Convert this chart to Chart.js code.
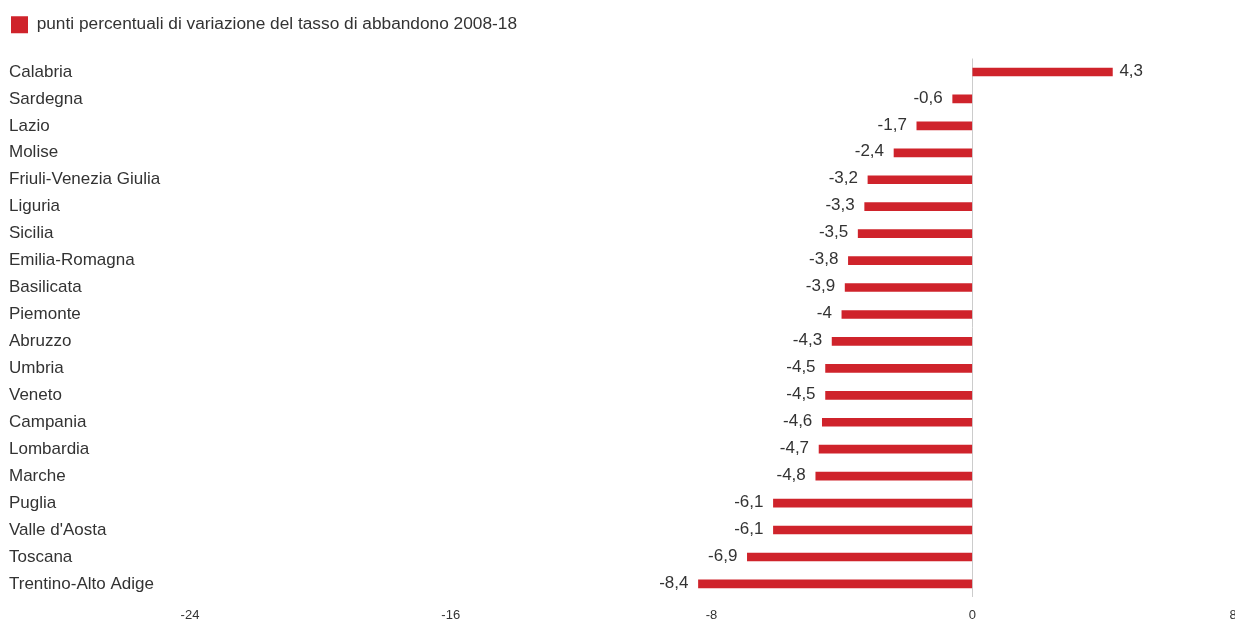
<!DOCTYPE html>
<html>
<head>
<meta charset="utf-8">
<script src="https://cdn.jsdelivr.net/npm/chart.js@4/dist/chart.umd.min.js"></script>
<style>
  html, body { margin: 0; padding: 0; background: #fff; overflow: hidden; }
  #wrap { position: relative; width: 1235px; height: 633px; }
</style>
</head>
<body>
<div id="wrap"><canvas id="c" width="1235" height="633"></canvas></div>
<script>
const categories = ["Calabria","Sardegna","Lazio","Molise","Friuli-Venezia Giulia","Liguria","Sicilia","Emilia-Romagna","Basilicata","Piemonte","Abruzzo","Umbria","Veneto","Campania","Lombardia","Marche","Puglia","Valle d'Aosta","Toscana","Trentino-Alto Adige"];
const values = [4.3,-0.6,-1.7,-2.4,-3.2,-3.3,-3.5,-3.8,-3.9,-4,-4.3,-4.5,-4.5,-4.6,-4.7,-4.8,-6.1,-6.1,-6.9,-8.4];
const seriesLabel = "punti percentuali di variazione del tasso di abbandono 2008-18";
const xTicks = [-24,-16,-8,0,8];

const FONT = "'Liberation Sans', Arial, Helvetica, sans-serif";
const RED = "#cf232b";
const TXT = "#333333";

const valueLabels = {
  id: 'valueLabels',
  afterDatasetsDraw(chart) {
    const ctx = chart.ctx;
    const meta = chart.getDatasetMeta(0);
    ctx.save();
    ctx.font = "17px " + FONT;
    ctx.fillStyle = TXT;
    ctx.textBaseline = 'middle';
    meta.data.forEach((bar, i) => {
      const v = values[i];
      const s = String(v).replace('.', ',');
      if (v >= 0) {
        ctx.textAlign = 'left';
        ctx.fillText(s, bar.x + 7, bar.y - 1);
      } else {
        ctx.textAlign = 'right';
        ctx.fillText(s, bar.x - 10, bar.y - 1);
      }
    });
    ctx.restore();
  }
};

const legendHeight = {
  id: 'legendHeight',
  beforeLayout(chart) {
    const lg = chart.legend;
    if (lg && !lg._patched) {
      const orig = lg.fit.bind(lg);
      lg.fit = function () { orig(); this.height = 44.5; };
      lg._patched = true;
    }
  }
};

new Chart(document.getElementById('c'), {
  type: 'bar',
  data: {
    labels: categories,
    datasets: [{
      label: seriesLabel,
      data: values,
      backgroundColor: RED,
      borderWidth: 0,
      barThickness: 8
    }]
  },
  options: {
    indexAxis: 'y',
    responsive: false,
    animation: false,
    layout: { padding: { left: 9, right: 2, top: 14, bottom: 0 } },
    plugins: {
      legend: {
        position: 'top',
        align: 'start',
        labels: {
          boxWidth: 17,
          boxHeight: 17,
          padding: 2,
          color: TXT,
          font: { family: FONT, size: 17.3 }
        }
      },
      tooltip: { enabled: false }
    },
    scales: {
      x: {
        min: -24,
        max: 8,
        afterBuildTicks(scale) { scale.ticks = xTicks.map(v => ({ value: v })); },
        afterFit(scale) { scale.paddingLeft = 0; scale.paddingRight = 0; },
        ticks: {
          color: TXT,
          font: { family: FONT, size: 13 },
          padding: 10,
          maxRotation: 0,
          callback: (v) => String(v)
        },
        grid: {
          color: (c) => (c.tick && c.tick.value === 0 ? '#cccccc' : 'rgba(0,0,0,0)'),
          drawTicks: false,
          lineWidth: 1
        },
        border: { display: false }
      },
      y: {
        afterFit(scale) { scale.width = 181; scale.paddingTop = 0; scale.paddingBottom = 0; },
        ticks: {
          crossAlign: 'far',
          color: TXT,
          font: { family: FONT, size: 17 },
          padding: 0
        },
        grid: { display: false, drawTicks: false },
        border: { display: false }
      }
    }
  },
  plugins: [valueLabels, legendHeight]
});
</script>
</body>
</html>
